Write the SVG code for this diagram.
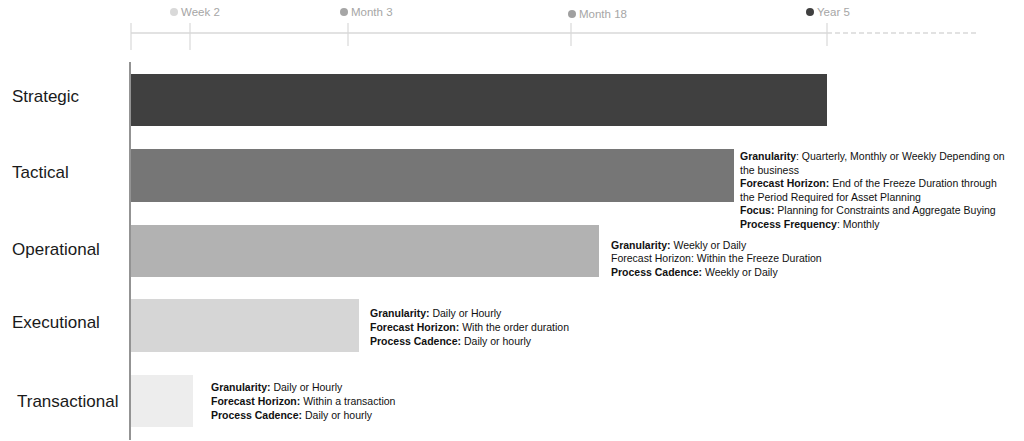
<svg xmlns="http://www.w3.org/2000/svg" width="1024" height="441" viewBox="0 0 1024 441">
<style>
.lbl{font-family:"Liberation Sans",Arial,sans-serif;font-size:17px;fill:#1a1a1a}
.d{font-family:"Liberation Sans",Arial,sans-serif;font-size:10.5px;fill:#111}
.d tspan.b{font-weight:bold}
.ms{font-family:"Liberation Sans",Arial,sans-serif;font-size:11.5px;fill:#a6a6a6}
.tick{stroke:#d9d9d9;stroke-width:1.2}
</style>
<rect width="1024" height="441" fill="#fff"/>
<g id="timeline">
<line x1="131" y1="33" x2="827" y2="33" stroke="#d9d9d9" stroke-width="1.5"/>
<line x1="827" y1="33" x2="978" y2="33" stroke="#d9d9d9" stroke-width="1.5" stroke-dasharray="5,3"/>
<line class="tick" x1="131" y1="23" x2="131" y2="50"/>
<line class="tick" x1="190" y1="23" x2="190" y2="50"/>
<line class="tick" x1="348" y1="23" x2="348" y2="46"/>
<line class="tick" x1="571" y1="23" x2="571" y2="46"/>
<line class="tick" x1="827" y1="23" x2="827" y2="46"/>
<g id="m-week2"><circle cx="174" cy="12" r="4" fill="#d9d9d9"/><text class="ms" x="181" y="16">Week 2</text></g>
<g id="m-month3"><circle cx="344" cy="12" r="4" fill="#a6a6a6"/><text class="ms" x="351" y="16">Month 3</text></g>
<g id="m-month18"><circle cx="572" cy="14" r="4" fill="#a0a0a0"/><text class="ms" x="579" y="18">Month 18</text></g>
<g id="m-year5"><circle cx="810" cy="12" r="4" fill="#404040"/><text class="ms" x="817" y="16">Year 5</text></g>
</g>
<g id="connectors">
<line x1="130" y1="62" x2="130" y2="440" stroke="#6f6f6f" stroke-width="1.5"/>
</g>
<g id="strategic">
<text class="lbl" x="12" y="102">Strategic</text>
<rect x="131" y="74" width="696" height="52" fill="#404040"/>
</g>
<g id="tactical">
<text class="lbl" x="12" y="178">Tactical</text>
<rect x="131" y="149" width="603" height="53" fill="#767676"/>
<text class="d" x="740" y="160"><tspan class="b">Granularity</tspan>: Quarterly, Monthly or Weekly Depending on</text>
<text class="d" x="740" y="173.5">the business</text>
<text class="d" x="740" y="187"><tspan class="b">Forecast Horizon:</tspan> End of the Freeze Duration through</text>
<text class="d" x="740" y="200.5">the Period Required for Asset Planning</text>
<text class="d" x="740" y="214"><tspan class="b">Focus:</tspan> Planning for Constraints and Aggregate Buying</text>
<text class="d" x="740" y="227.5"><tspan class="b">Process Frequency</tspan>: Monthly</text>
</g>
<g id="operational">
<text class="lbl" x="12" y="255">Operational</text>
<rect x="131" y="225" width="468" height="52" fill="#b2b2b2"/>
<text class="d" x="611" y="248.5"><tspan class="b">Granularity:</tspan> Weekly or Daily</text>
<text class="d" x="611" y="262">Forecast Horizon: Within the Freeze Duration</text>
<text class="d" x="611" y="275.5"><tspan class="b">Process Cadence:</tspan> Weekly or Daily</text>
</g>
<g id="executional">
<text class="lbl" x="12" y="328">Executional</text>
<rect x="131" y="299" width="228" height="53" fill="#d6d6d6"/>
<text class="d" x="370" y="317"><tspan class="b">Granularity:</tspan> Daily or Hourly</text>
<text class="d" x="370" y="331"><tspan class="b">Forecast Horizon:</tspan> With the order duration</text>
<text class="d" x="370" y="345"><tspan class="b">Process Cadence:</tspan> Daily or hourly</text>
</g>
<g id="transactional">
<text class="lbl" x="17" y="407">Transactional</text>
<rect x="131" y="375" width="62" height="52" fill="#ededed"/>
<text class="d" x="211" y="391"><tspan class="b">Granularity:</tspan> Daily or Hourly</text>
<text class="d" x="211" y="405"><tspan class="b">Forecast Horizon:</tspan> Within a transaction</text>
<text class="d" x="211" y="419"><tspan class="b">Process Cadence:</tspan> Daily or hourly</text>
</g>
</svg>
